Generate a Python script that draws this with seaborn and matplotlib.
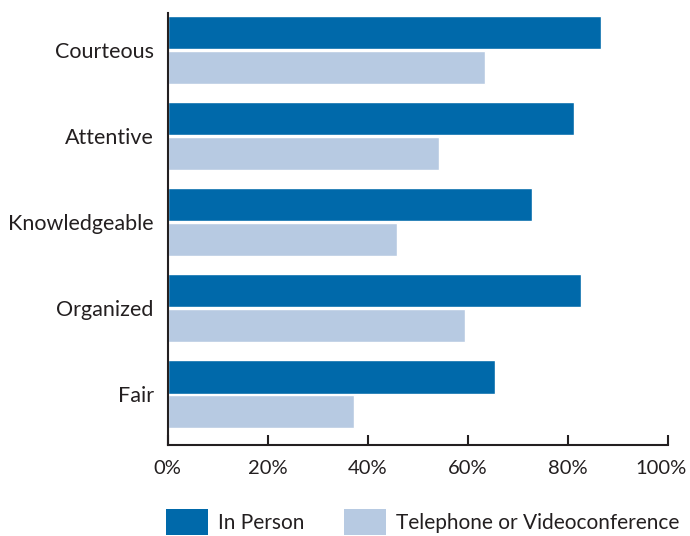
import matplotlib
matplotlib.use("Agg")
import matplotlib.pyplot as plt
import matplotlib.transforms as mtransforms
import seaborn as sns
import pandas as pd
from matplotlib.patches import Patch

categories = ["Courteous", "Attentive", "Knowledgeable", "Organized", "Fair"]
in_person = [86.7, 81.3, 72.9, 82.7, 65.5]
telephone = [63.5, 54.3, 45.9, 59.5, 37.3]
series_names = ["In Person", "Telephone or Videoconference"]
tick_values = [0, 20, 40, 60, 80, 100]
tick_labels = ["0%", "20%", "40%", "60%", "80%", "100%"]

colors = ["#0069AA", "#B7CAE2"]

df = pd.DataFrame({
    "category": categories * 2,
    "value": in_person + telephone,
    "series": [series_names[0]] * len(categories) + [series_names[1]] * len(categories),
})

sns.set_theme(style="white")
plt.rcParams["font.family"] = ["Lato", "DejaVu Sans"]

fig = plt.figure(figsize=(6.9, 5.36), dpi=100)
ax = fig.add_axes([0.2428, 0.1698, 0.7246, 0.8059])

sns.barplot(data=df, y="category", x="value", hue="series", order=categories,
            hue_order=series_names, palette=colors, orient="h", width=0.8, gap=0.04,
            saturation=1, legend=False, ax=ax)

ax.set_xlim(0, 100)
ax.set_ylim(4.59, -0.43)
ax.set_xticks(tick_values)
ax.set_xticklabels(tick_labels, fontsize=14.5, color="#231F20")
ax.set_xlabel("")
ax.set_ylabel("")
ax.tick_params(axis="x", bottom=True, direction="in", length=7.5, width=1.5,
               color="#231F20", pad=11)
ax.tick_params(axis="y", left=False, length=0, pad=10, labelsize=15.5, labelcolor="#231F20")
for s in ["top", "right"]:
    ax.spines[s].set_visible(False)
for s in ["left", "bottom"]:
    ax.spines[s].set_color("#231F20")
    ax.spines[s].set_linewidth(1.5)

# nudge the last tick label slightly left so it stays inside the figure
offset = mtransforms.ScaledTranslation(-5 / 72, 0, fig.dpi_scale_trans)
last = ax.get_xticklabels()[-1]
last.set_transform(last.get_transform() + offset)

handles = [Patch(facecolor=c, edgecolor="none") for c in colors]
fig.legend(handles, series_names, loc="center left", bbox_to_anchor=(0.2406, 0.026),
           ncol=2, frameon=False, fontsize=15, handlelength=2.0, handleheight=1.5,
           handletextpad=0.5, columnspacing=1.9, borderpad=0, borderaxespad=0,
           labelcolor="#231F20")

fig.savefig("out.png", dpi=100)
